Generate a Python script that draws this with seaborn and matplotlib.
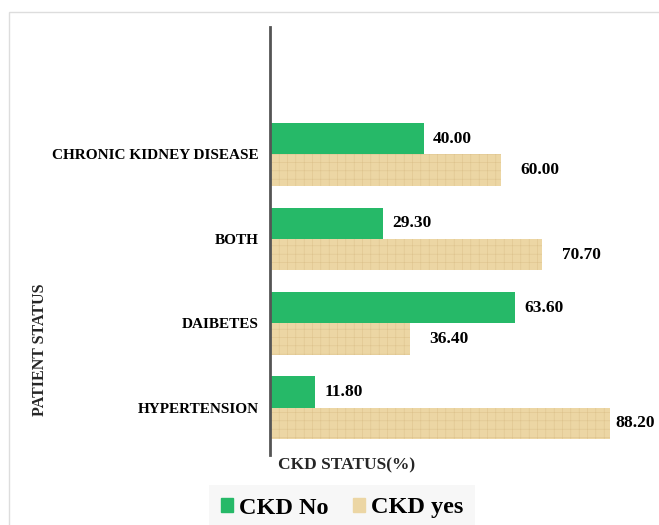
import numpy as np
import pandas as pd
import matplotlib.pyplot as plt
import seaborn as sns
from matplotlib.patches import Rectangle

# Données
statuts = ["CHRONIC KIDNEY DISEASE", "BOTH", "DAIBETES", "HYPERTENSION"]
ckd_no = [40.00, 29.30, 63.60, 11.80]
ckd_yes = [60.00, 70.70, 36.40, 88.20]
series = ["CKD No", "CKD yes"]

df = pd.DataFrame({
    "Statut": statuts * 2,
    "Valeur": ckd_no + ckd_yes,
    "CKD": [series[0]] * len(statuts) + [series[1]] * len(statuts),
})

sns.set_style("white")
plt.rcParams["font.family"] = ["Liberation Serif", "DejaVu Serif"]
plt.rcParams["hatch.linewidth"] = 0.4
plt.rcParams["text.color"] = "black"
plt.rcParams["ytick.color"] = "black"

vert = "#26B968"
beige = "#ECD6A4"

fig = plt.figure(figsize=(6.59, 5.25), dpi=100)
ax = fig.add_axes([270 / 659, 70 / 525, 385 / 659, 428 / 525])

sns.barplot(data=df, y="Statut", x="Valeur", hue="CKD", order=statuts,
            hue_order=series, palette=[vert, beige], orient="h", saturation=1,
            width=0.74, errorbar=None, ax=ax, legend=False)

# texture papyrus approximative
for bar in ax.containers[1]:
    bar.set_hatch("++")
    bar.set_edgecolor("#DEC48E")
    bar.set_linewidth(0)
for bar in ax.containers[0]:
    bar.set_linewidth(0)

ax.bar_label(ax.containers[0], fmt="%.2f", padding=6.5, fontsize=12.5, fontweight="bold")
txt = ax.bar_label(ax.containers[1], fmt="%.2f", padding=14, fontsize=12.5, fontweight="bold")
txt[-1].xyann = (4, 0)

ax.set_xlim(0, 100)
ax.set_ylim(3.56, -1.51)
ax.set_xticks([])
ax.tick_params(axis="y", length=0, pad=8)
for lab in ax.get_yticklabels():
    lab.set_fontweight("bold")
    lab.set_fontsize(11)

for s in ["top", "right", "bottom"]:
    ax.spines[s].set_visible(False)
ax.spines["left"].set_color("#555555")
ax.spines["left"].set_linewidth(2)

ax.set_xlabel("CKD STATUS(%)", fontsize=12.5, fontweight="bold", ha="left")
ax.xaxis.set_label_coords(0.02, -0.005)
ax.xaxis.label.set_va("top")
ax.set_ylabel("PATIENT STATUS", fontsize=11.5, fontweight="bold")
ax.yaxis.set_label_coords(-0.577, 0.245)

# légende
handles = [Rectangle((0, 0), 1, 1, color=vert), Rectangle((0, 0), 1, 1, color=beige)]
leg = fig.legend(handles, series, loc="center", bbox_to_anchor=(342 / 659, 17 / 525),
                 ncol=2, frameon=True, fancybox=False, handlelength=0.5, handleheight=0.5,
                 handletextpad=0.25, columnspacing=1.0, borderpad=0.5,
                 prop={"size": 17.5, "weight": "bold"})
leg.get_frame().set_facecolor("#F6F6F6")
leg.get_frame().set_edgecolor("none")

# cadre gris clair
fig.patches.append(Rectangle((9 / 659, -0.1), 1.2, (513 / 525) + 0.1, transform=fig.transFigure,
                             fill=False, edgecolor="#DDDDDD", linewidth=1))

fig.savefig("out.png", dpi=100)
